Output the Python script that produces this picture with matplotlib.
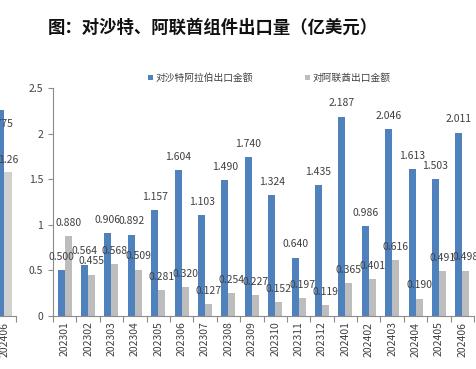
import matplotlib
matplotlib.use("Agg")
import matplotlib.pyplot as plt
import numpy as np

plt.rcParams['font.family'] = ['Noto Sans CJK SC', 'DejaVu Sans']

# ---------------------------------------------------------------
# data
# ---------------------------------------------------------------
months = ["202301", "202302", "202303", "202304", "202305", "202306",
          "202307", "202308", "202309", "202310", "202311", "202312",
          "202401", "202402", "202403", "202404", "202405", "202406"]
saudi = [0.500, 0.564, 0.906, 0.892, 1.157, 1.604, 1.103, 1.490, 1.740,
         1.324, 0.640, 1.435, 2.187, 0.986, 2.046, 1.613, 1.503, 2.011]
uae = [0.880, 0.455, 0.568, 0.509, 0.281, 0.320, 0.127, 0.254, 0.227,
       0.152, 0.197, 0.119, 0.365, 0.401, 0.616, 0.190, 0.491, 0.498]

# cut-off neighbour chart on the left edge
prev_month = ["202406"]
prev_a = [1.81]
prev_b = [1.26]
prev_a_label = ["1.775"]

title = "图：对沙特、阿联酋组件出口量（亿美元）"
leg_a = "对沙特阿拉伯出口金额"
leg_b = "对阿联酋出口金额"

BLUE = "#4F81BD"
GREY = "#BDBDBD"
AXC = "#8C8C8C"
TXT = "#404040"

W, H = 477, 369
fig = plt.figure(figsize=(W / 100, H / 100), dpi=100)


def px(x0, y0, x1, y1):
    """pixel box (top-left origin) -> figure rect"""
    return [x0 / W, 1 - y1 / H, (x1 - x0) / W, (y1 - y0) / H]


def style_axes(ax):
    for s in ("top", "right"):
        ax.spines[s].set_visible(False)
    for s in ("left", "bottom"):
        ax.spines[s].set_color(AXC)
        ax.spines[s].set_linewidth(0.8)
    ax.tick_params(axis="both", colors=AXC, labelcolor=TXT, labelsize=7.5,
                   length=3.5, width=0.8)


# ---------------------------------------------------------------
# main chart
# ---------------------------------------------------------------
ax = fig.add_axes(px(53, 88, 474, 316))
x = np.arange(len(months))
bw = 0.3
b1 = ax.bar(x - bw / 2, saudi, bw, color=BLUE, label=leg_a)
b2 = ax.bar(x + bw / 2, uae, bw, color=GREY, label=leg_b)

for bars, vals in ((b1, saudi), (b2, uae)):
    for r, v in zip(bars, vals):
        ax.annotate(f"{v:.3f}", (r.get_x() + r.get_width() / 2, v),
                    xytext=(0, 9.5), textcoords="offset points",
                    ha="center", va="center", fontsize=7.5, color=TXT)

ax.set_xlim(-0.5, len(months) - 0.5)
ax.set_ylim(0, 2.5)
ax.set_yticks([0, 0.5, 1, 1.5, 2, 2.5])
ax.set_yticklabels(["0", "0.5", "1", "1.5", "2", "2.5"])
ax.set_xticks(x)
ax.set_xticklabels(months, rotation=90)
ax.set_xticks(np.arange(-0.5, len(months)), minor=True)
style_axes(ax)
ax.tick_params(axis="x", which="major", length=0, pad=4)
ax.tick_params(axis="x", which="minor", length=4, color=AXC, width=0.8)

fig.legend(handles=[b1, b2], loc="center left", bbox_to_anchor=(143 / W, 1 - 78 / H),
           ncol=2, frameon=False, fontsize=7, handlelength=0.55, handleheight=0.55,
           handletextpad=0.25, columnspacing=5.3, labelcolor=TXT, borderpad=0)

# ---------------------------------------------------------------
# fragment of the previous chart, clipped by the left edge
# ---------------------------------------------------------------
axp = fig.add_axes(px(-84, 88, 16, 316))
cw = 100 / 23.4
xp = np.arange(len(prev_month))
axp.bar(xp - 0.17, prev_a, 0.34, color=BLUE)
axp.bar(xp + 0.17, prev_b, 0.34, color="#D0D0D0")
axp.annotate(prev_a_label[0], (xp[0] - 0.17, prev_a[0]), xytext=(0, -10),
             textcoords="offset points", ha="center", va="center",
             fontsize=7.5, color=TXT)
axp.annotate(f"{prev_b[0]:.2f}", (xp[0] + 0.17, prev_b[0]), xytext=(0, 9),
             textcoords="offset points", ha="center", va="center",
             fontsize=7.5, color=TXT)
axp.set_xlim(0.5 - cw, 0.5)
axp.set_ylim(0, 2.0)
axp.set_xticks(xp)
axp.set_xticklabels(prev_month, rotation=90)
axp.set_xticks([0.5], minor=True)
axp.set_yticks([])
style_axes(axp)
axp.spines["left"].set_visible(False)
axp.tick_params(axis="x", which="major", length=0, pad=4)
axp.tick_params(axis="x", which="minor", length=4, color=AXC, width=0.8)

fig.text(48 / W, 1 - 28 / H, title, fontsize=12.5, fontweight="bold",
         ha="left", va="center", color="#111111")

fig.savefig("out.png", dpi=100)
